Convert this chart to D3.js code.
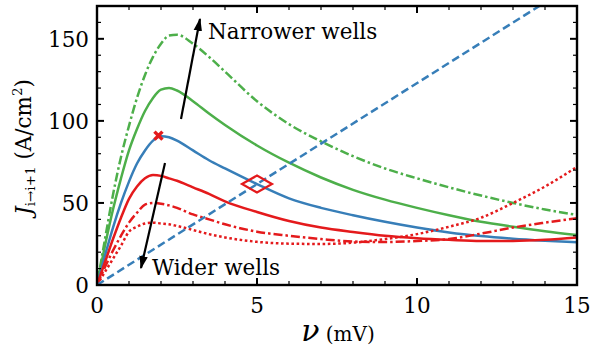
<!DOCTYPE html>
<html>
<head>
<meta charset="utf-8">
<script src="https://cdnjs.cloudflare.com/ajax/libs/d3/7.8.5/d3.min.js"></script>
<style>
  body { margin: 0; background: #fff; }
  text { font-family: "DejaVu Serif", serif; fill: #000; }
</style>
</head>
<body>
<svg id="canvas"></svg>
<script>
// bias voltage grid (mV)
const voltages = [0, 0.25, 0.5, 0.75, 1, 1.25, 1.5, 1.75, 2, 2.25, 2.5, 3, 3.5, 4, 5, 6, 7, 8, 9, 10, 11, 12, 13, 14, 15];

// current densities (A/cm^2)
const greenDashDot = [0, 28, 55, 78, 97, 114, 128, 139, 147, 152, 152.5, 147, 139, 130, 112, 98, 87.5, 78.5, 71, 65, 59.5, 54.5, 50, 46, 42.7];
const greenSolid = [0, 24, 46, 65, 82, 95, 106, 114, 119, 120, 118.5, 112, 104.5, 97.5, 85, 74.5, 65.5, 58, 52, 47, 42.5, 38.5, 35.5, 32.8, 30.5];
const blueSolid = [0, 18, 35, 50, 63, 74, 82, 88, 90.7, 90, 88, 82, 76, 71, 61.5, 52.8, 47, 42.5, 38.5, 35, 32, 29.8, 28.2, 27, 26];
const redSolid = [0, 14, 28, 41, 52.5, 60, 65, 67, 66.5, 65, 63.5, 59.5, 55.5, 51, 44.5, 39, 35, 32.3, 30, 28.5, 27.5, 26.8, 26.8, 27.5, 29];
const redDashDot = [0, 11, 21, 30, 38, 44, 49, 50, 49.5, 48.5, 47, 43, 40, 37, 32.5, 30, 28, 26.5, 26.2, 26.8, 28, 31.3, 35, 38, 40.7];
const redDotted = [0, 8, 16, 24, 32.5, 35.5, 37.5, 38, 37.5, 37, 36, 33.5, 31, 29, 26.3, 25.2, 25, 25.8, 28, 31, 35.5, 41, 50, 60, 72];

// straight load line
const loadLineV = [0, 15];
const loadLineJ = [0, 184.5];

// markers
const peakMarker = [1.92, 91];
const crossingMarker = [5, 61.5];

const xTicks = [0, 5, 10, 15];
const yTicks = [0, 50, 100, 150];

const canvasWidth = 590;
const canvasHeight = 355;
const margin = { left: 97, right: 13, top: 6, bottom: 70 };
const plotWidth = canvasWidth - margin.left - margin.right;
const plotHeight = canvasHeight - margin.top - margin.bottom;

const green = "#4daf4a";
const blue = "#377eb8";
const red = "#e41a1c";

const canvas = d3.select("#canvas").attr("width", canvasWidth).attr("height", canvasHeight);

const xScale = d3.scaleLinear().domain([0, 15]).range([margin.left, margin.left + plotWidth]);
const yScale = d3.scaleLinear().domain([0, 170]).range([margin.top + plotHeight, margin.top]);

const defs = canvas.append("defs");
defs.append("clipPath").attr("id", "plotClip")
  .append("rect")
  .attr("x", margin.left).attr("y", margin.top)
  .attr("width", plotWidth).attr("height", plotHeight);

const plot = canvas.append("g").attr("clip-path", "url(#plotClip)");

const lineMaker = d3.line()
  .x((d) => xScale(d[0]))
  .y((d) => yScale(d[1]))
  .curve(d3.curveMonotoneX);

const seriesList = [
  { values: voltages.map((v, i) => [v, greenDashDot[i]]), color: green, dash: "9,3,2.5,3" },
  { values: voltages.map((v, i) => [v, greenSolid[i]]), color: green, dash: null },
  { values: voltages.map((v, i) => [v, blueSolid[i]]), color: blue, dash: null },
  { values: voltages.map((v, i) => [v, redSolid[i]]), color: red, dash: null },
  { values: voltages.map((v, i) => [v, redDashDot[i]]), color: red, dash: "9,3,2.5,3" },
  { values: voltages.map((v, i) => [v, redDotted[i]]), color: red, dash: "2.6,2.6" },
  { values: loadLineV.map((v, i) => [v, loadLineJ[i]]), color: blue, dash: "8,4" },
];

plot.selectAll("path.series")
  .data(seriesList)
  .enter()
  .append("path")
  .attr("class", "series")
  .attr("d", (s) => lineMaker(s.values))
  .attr("fill", "none")
  .attr("stroke", (s) => s.color)
  .attr("stroke-width", 2.5)
  .attr("stroke-dasharray", (s) => s.dash);

// open diamond where blue curve meets the load line
const dx = xScale(crossingMarker[0]);
const dy = yScale(crossingMarker[1]);
canvas.append("path")
  .attr("d", `M${dx - 15},${dy} L${dx},${dy - 8.5} L${dx + 15},${dy} L${dx},${dy + 8.5} Z`)
  .attr("fill", "none")
  .attr("stroke", red)
  .attr("stroke-width", 2.2);

// x marker at the peak
const px = xScale(peakMarker[0]);
const py = yScale(peakMarker[1]);
canvas.append("path")
  .attr("d", `M${px - 4},${py - 4} L${px + 4},${py + 4} M${px - 4},${py + 4} L${px + 4},${py - 4}`)
  .attr("stroke", red)
  .attr("stroke-width", 3.4);

// ticks on all four sides, pointing in
const tickGroup = canvas.append("g").attr("stroke", "#000");
const xMinor = d3.range(0, 16, 1);
const yMinor = d3.range(0, 171, 10);
xMinor.forEach((v) => {
  const len = xTicks.includes(v) ? 7 : 4;
  const w = xTicks.includes(v) ? 2 : 1.2;
  tickGroup.append("line").attr("x1", xScale(v)).attr("x2", xScale(v))
    .attr("y1", yScale(0)).attr("y2", yScale(0) - len).attr("stroke-width", w);
  tickGroup.append("line").attr("x1", xScale(v)).attr("x2", xScale(v))
    .attr("y1", yScale(170)).attr("y2", yScale(170) + len).attr("stroke-width", w);
});
yMinor.forEach((v) => {
  const len = yTicks.includes(v) ? 7 : 4;
  const w = yTicks.includes(v) ? 2 : 1.2;
  tickGroup.append("line").attr("y1", yScale(v)).attr("y2", yScale(v))
    .attr("x1", xScale(0)).attr("x2", xScale(0) + len).attr("stroke-width", w);
  tickGroup.append("line").attr("y1", yScale(v)).attr("y2", yScale(v))
    .attr("x1", xScale(15)).attr("x2", xScale(15) - len).attr("stroke-width", w);
});

canvas.append("rect")
  .attr("x", margin.left).attr("y", margin.top)
  .attr("width", plotWidth).attr("height", plotHeight)
  .attr("fill", "none").attr("stroke", "#000").attr("stroke-width", 2.4);

// tick labels
canvas.selectAll("text.xlab")
  .data(xTicks)
  .enter()
  .append("text")
  .attr("class", "xlab")
  .attr("x", (d) => xScale(d))
  .attr("y", 313)
  .attr("text-anchor", "middle")
  .style("font-size", "21.5px")
  .text((d) => d);

canvas.selectAll("text.ylab")
  .data(yTicks)
  .enter()
  .append("text")
  .attr("class", "ylab")
  .attr("x", 89)
  .attr("y", (d) => yScale(d) + 8)
  .attr("text-anchor", "end")
  .style("font-size", "21.5px")
  .text((d) => d);

// axis titles
const xTitle = canvas.append("text")
  .attr("x", 338)
  .attr("y", 341)
  .attr("text-anchor", "middle");
xTitle.append("tspan").style("font-size", "30px").style("font-style", "italic").text("ν");
xTitle.append("tspan").style("font-size", "20px").text(" (mV)");

const yTitle = canvas.append("text")
  .attr("transform", "translate(31,147) rotate(-90)")
  .attr("text-anchor", "middle")
  .style("font-size", "21.5px");
yTitle.append("tspan").style("font-style", "italic").text("J");
yTitle.append("tspan").style("font-size", "13.5px").attr("dy", 4).text("i→i+1");
yTitle.append("tspan").attr("dy", -4).text(" (A/cm");
yTitle.append("tspan").style("font-size", "13.5px").attr("dy", -9).text("2");
yTitle.append("tspan").attr("dy", 9).text(")");

// annotation arrows
defs.append("marker")
  .attr("id", "head")
  .attr("viewBox", "0 0 10 10")
  .attr("refX", 9).attr("refY", 5)
  .attr("markerWidth", 6).attr("markerHeight", 6)
  .attr("orient", "auto")
  .append("path").attr("d", "M0,1.8 L10,5 L0,8.2 Z").attr("fill", "#000");

canvas.append("line")
  .attr("x1", 181).attr("y1", 119).attr("x2", 200).attr("y2", 19)
  .attr("stroke", "#000").attr("stroke-width", 2.2).attr("marker-end", "url(#head)");
canvas.append("line")
  .attr("x1", 165).attr("y1", 163).attr("x2", 141).attr("y2", 268)
  .attr("stroke", "#000").attr("stroke-width", 2.2).attr("marker-end", "url(#head)");

canvas.append("text").attr("x", 208).attr("y", 39).style("font-size", "21.5px").text("Narrower wells");
canvas.append("text").attr("x", 152).attr("y", 275).style("font-size", "21.5px").text("Wider wells");
</script>
</body>
</html>
